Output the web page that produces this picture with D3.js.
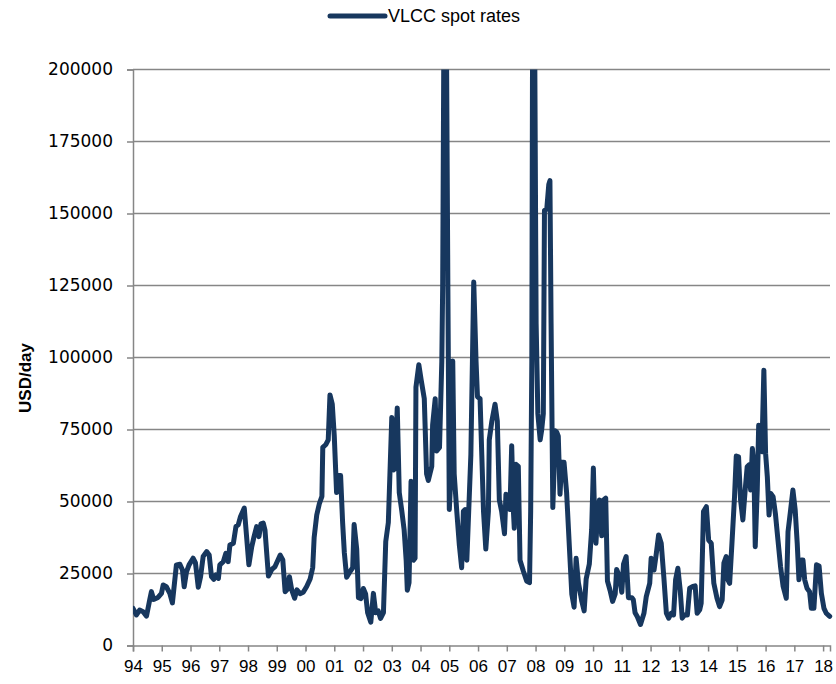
<!DOCTYPE html>
<html>
<head>
<meta charset="utf-8">
<script src="https://cdn.jsdelivr.net/npm/d3@7"></script>
<style>
  html, body { margin: 0; padding: 0; background: #fff; }
  svg { display: block; }
  .tick text { fill: #000; }
</style>
</head>
<body>
<svg id="chart" width="836" height="684"></svg>
<script>
// Series name and axis labels
const seriesName = 'VLCC spot rates';
const yTitle = 'USD/day';
const yTicks = [0, 25000, 50000, 75000, 100000, 125000, 150000, 175000, 200000];
const xYears = d3.range(1994, 2019);

// Points (decimal year, USD/day). Two peaks go off the top.
const dates = [
    1994.00, 1994.12, 1994.23, 1994.35, 1994.47, 1994.58, 1994.64, 1994.72, 1994.87, 1994.99,
    1995.05, 1995.16, 1995.28, 1995.37, 1995.51, 1995.63, 1995.72, 1995.78, 1995.86, 1995.95,
    1996.09, 1996.17, 1996.27, 1996.35, 1996.44, 1996.56, 1996.65, 1996.73, 1996.81, 1996.88,
    1996.97, 1997.02, 1997.14, 1997.23, 1997.31, 1997.37, 1997.49, 1997.58, 1997.66, 1997.74,
    1997.87, 1997.95, 1998.03, 1998.13, 1998.21, 1998.30, 1998.38, 1998.45, 1998.53, 1998.59,
    1998.71, 1998.83, 1998.94, 1999.12, 1999.21, 1999.29, 1999.37, 1999.44, 1999.52, 1999.62,
    1999.70, 1999.81, 1999.92, 2000.04, 2000.16, 2000.25, 2000.30, 2000.39, 2000.48, 2000.57,
    2000.60, 2000.71, 2000.79, 2000.85, 2000.93, 2001.00, 2001.08, 2001.14, 2001.22, 2001.29,
    2001.35, 2001.43, 2001.55, 2001.64, 2001.69, 2001.78, 2001.84, 2001.93, 2002.01, 2002.09,
    2002.16, 2002.27, 2002.36, 2002.44, 2002.53, 2002.61, 2002.71, 2002.79, 2002.88, 2003.00,
    2003.06, 2003.11, 2003.19, 2003.26, 2003.35, 2003.43, 2003.50, 2003.54, 2003.60, 2003.67,
    2003.75, 2003.81, 2003.84, 2003.94, 2004.02, 2004.13, 2004.21, 2004.27, 2004.39, 2004.42,
    2004.51, 2004.56, 2004.66, 2004.74, 2004.77, 2004.82, 2004.89, 2004.95, 2005.00, 2005.09,
    2005.12, 2005.17, 2005.26, 2005.35, 2005.43, 2005.49, 2005.55, 2005.61, 2005.66, 2005.75,
    2005.85, 2005.93, 2005.98, 2006.07, 2006.13, 2006.19, 2006.27, 2006.36, 2006.39, 2006.48,
    2006.59, 2006.67, 2006.74, 2006.82, 2006.92, 2006.97, 2007.06, 2007.11, 2007.17, 2007.23,
    2007.26, 2007.32, 2007.40, 2007.46, 2007.58, 2007.69, 2007.79, 2007.83, 2007.87, 2007.90,
    2007.96, 2008.02, 2008.08, 2008.16, 2008.21, 2008.27, 2008.31, 2008.39, 2008.46, 2008.50,
    2008.54, 2008.60, 2008.64, 2008.68, 2008.74, 2008.79, 2008.85, 2008.91, 2008.99, 2009.08,
    2009.18, 2009.26, 2009.34, 2009.41, 2009.49, 2009.61, 2009.69, 2009.76, 2009.87, 2009.95,
    2010.01, 2010.05, 2010.10, 2010.16, 2010.22, 2010.30, 2010.36, 2010.44, 2010.50, 2010.59,
    2010.68, 2010.77, 2010.82, 2010.90, 2011.00, 2011.06, 2011.15, 2011.23, 2011.35, 2011.40,
    2011.46, 2011.54, 2011.65, 2011.77, 2011.85, 2011.97, 2012.02, 2012.12, 2012.20, 2012.28,
    2012.37, 2012.46, 2012.55, 2012.63, 2012.72, 2012.80, 2012.87, 2012.95, 2013.03, 2013.10,
    2013.18, 2013.28, 2013.36, 2013.47, 2013.55, 2013.62, 2013.71, 2013.76, 2013.84, 2013.94,
    2014.02, 2014.11, 2014.20, 2014.31, 2014.40, 2014.49, 2014.55, 2014.63, 2014.69, 2014.75,
    2014.83, 2014.92, 2014.98, 2015.06, 2015.13, 2015.21, 2015.29, 2015.36, 2015.42, 2015.48,
    2015.54, 2015.59, 2015.64, 2015.71, 2015.76, 2015.83, 2015.87, 2015.94, 2016.00, 2016.06,
    2016.12, 2016.18, 2016.26, 2016.34, 2016.43, 2016.52, 2016.61, 2016.72, 2016.78, 2016.87,
    2016.95, 2017.03, 2017.10, 2017.16, 2017.24, 2017.30, 2017.36, 2017.44, 2017.53, 2017.59,
    2017.68, 2017.77, 2017.86, 2017.94, 2018.03, 2018.11, 2018.23
];
const rates = [
    12900, 10600, 12300, 11700, 10200, 15800, 18700, 16000, 16700, 18100,
    21000, 20400, 18100, 14800, 28000, 28200, 26200, 20400, 25600, 28000,
    30300, 28800, 20200, 23900, 30900, 32600, 31400, 23900, 23000, 24500,
    23300, 28000, 29100, 32000, 29100, 34900, 35500, 41300, 41900, 44800,
    47700, 37800, 28000, 34300, 37800, 41300, 37800, 42200, 42500, 40100,
    24100, 26400, 27400, 31400, 29700, 18700, 19500, 23900, 19300, 16400,
    19300, 18000, 18500, 20500, 23100, 27000, 37500, 45300, 49200, 51800,
    68800, 69800, 71400, 87000, 83800, 72700, 53100, 59000, 59000, 42700,
    32200, 23700, 25700, 27000, 42000, 33500, 16600, 16300, 19800, 17900,
    11400, 8100, 18100, 11400, 12000, 9400, 11400, 36100, 42700, 79200,
    60900, 61600, 82500, 53100, 46600, 40100, 29600, 19200, 21800, 57000,
    29600, 30300, 89700, 97500, 92300, 85700, 59600, 57300, 62200, 76600,
    85700, 67500, 68800, 98800, 124900, 230000, 230000, 125000, 47200, 66200,
    98800, 59600, 46600, 34800, 27000, 46600, 47200, 29600, 42700, 66200,
    126200, 98800, 86400, 85700, 66200, 46600, 33500, 46600, 71400, 77900,
    83800, 77900, 50500, 46600, 38800, 52500, 51800, 47200, 69400, 46600,
    40700, 62900, 62200, 29600, 25700, 22400, 21800, 46600, 98800, 230000,
    230000, 111800, 80500, 71400, 74600, 80500, 151000, 151600, 160100, 161400,
    111800, 47900, 59600, 74600, 74000, 72700, 52500, 63600, 63600, 53100,
    33500, 17900, 13300, 30300, 21800, 15300, 12000, 23100, 28300, 40100,
    61600, 46600, 35500, 46600, 50500, 38100, 50500, 51200, 22400, 19200,
    15300, 17900, 26400, 24400, 18500, 28300, 30900, 16600, 16600, 15900,
    11400, 10000, 7300, 11200, 17000, 21600, 30300, 26200, 32000, 38400,
    35500, 23900, 11200, 9500, 11200, 10600, 22800, 26800, 19300, 9500,
    10600, 10600, 19900, 20500, 20700, 11200, 12400, 14700, 46500, 48200,
    36600, 35500, 21600, 16400, 13500, 15800, 28600, 30900, 22800, 21600,
    35500, 51700, 65800, 65500, 50500, 43600, 54000, 62100, 62700, 54000,
    68400, 63200, 34300, 54000, 76500, 75900, 67300, 95600, 66700, 58600,
    45300, 52800, 51700, 45900, 36600, 27400, 20500, 16400, 39500, 47000,
    54000, 47000, 35500, 22800, 29700, 29700, 22800, 19900, 18700, 12900,
    12900, 28000, 27600, 18100, 12900, 11200, 10100
];

const COLOR_LINE = '#17375E',
      COLOR_GRID = '#868686';

const svg = d3.select('#chart');
const plot = { left: 133, right: 830, top: 69.5, bottom: 645.5 };

const xScale = d3.scaleLinear().domain([1994, 2018.24]).range([plot.left, plot.right]);
const yScale = d3.scaleLinear().domain([0, 200000]).range([plot.bottom, plot.top]);

// Horizontal gridlines
svg.append('g')
    .selectAll('line')
    .data(yTicks.filter((t) => t > 0))
    .enter().append('line')
    .attr('x1', plot.left)
    .attr('x2', plot.right)
    .attr('y1', (t) => yScale(t))
    .attr('y2', (t) => yScale(t))
    .attr('stroke', COLOR_GRID)
    .attr('stroke-width', 1.5);

// Y axis
const yAxis = d3.axisLeft(yScale).tickValues(yTicks).tickSize(6).tickPadding(14).tickFormat(d3.format('d'));
svg.append('g')
    .attr('transform', `translate(${plot.left},0)`)
    .call(yAxis)
    .call((g) => g.select('.domain').attr('stroke', COLOR_GRID).attr('stroke-width', 1.5))
    .call((g) => g.selectAll('.tick line').attr('stroke', COLOR_GRID).attr('stroke-width', 1.5))
    .call((g) => g.selectAll('.tick text')
        .attr('font-family', 'DejaVu Sans, Verdana, sans-serif')
        .attr('font-size', 17));

// X axis
const xAxis = d3.axisBottom(xScale).tickValues(xYears).tickSize(6).tickPadding(8)
    .tickFormat((y) => d3.format('02d')(y % 100));
svg.append('g')
    .attr('transform', `translate(0,${plot.bottom})`)
    .call(xAxis)
    .call((g) => g.select('.domain').attr('stroke', COLOR_GRID).attr('stroke-width', 1.5))
    .call((g) => g.selectAll('.tick line').attr('stroke', COLOR_GRID).attr('stroke-width', 1.5))
    .call((g) => g.selectAll('.tick text')
        .attr('font-family', 'Liberation Sans, Arial, sans-serif')
        .attr('font-size', 17));

// Y axis title
svg.append('text')
    .attr('transform', 'translate(31,378) rotate(-90)')
    .attr('text-anchor', 'middle')
    .attr('font-family', 'Liberation Sans, Arial, sans-serif')
    .attr('font-weight', 'bold')
    .attr('font-size', 17)
    .text(yTitle);

// Clip the line to the plot area (peaks run off the top)
svg.append('clipPath').attr('id', 'plot-clip')
    .append('rect')
    .attr('x', plot.left)
    .attr('y', plot.top)
    .attr('width', plot.right - plot.left + 5)
    .attr('height', plot.bottom - plot.top + 5);

const points = dates.map((d, i) => [d, rates[i]]);
const line = d3.line().x((p) => xScale(p[0])).y((p) => yScale(p[1]));

svg.append('path')
    .datum(points)
    .attr('clip-path', 'url(#plot-clip)')
    .attr('d', line)
    .attr('fill', 'none')
    .attr('stroke', COLOR_LINE)
    .attr('stroke-width', 5)
    .attr('stroke-linejoin', 'round')
    .attr('stroke-linecap', 'round');

// Legend
const legend = svg.append('g').attr('transform', 'translate(330,16)');
legend.append('line')
    .attr('x1', 0).attr('x2', 55)
    .attr('y1', 0).attr('y2', 0)
    .attr('stroke', COLOR_LINE)
    .attr('stroke-width', 5)
    .attr('stroke-linecap', 'round');
legend.append('text')
    .attr('x', 58)
    .attr('y', 6)
    .attr('font-family', 'Liberation Sans, Arial, sans-serif')
    .attr('font-size', 18)
    .text(seriesName);
</script>
</body>
</html>
